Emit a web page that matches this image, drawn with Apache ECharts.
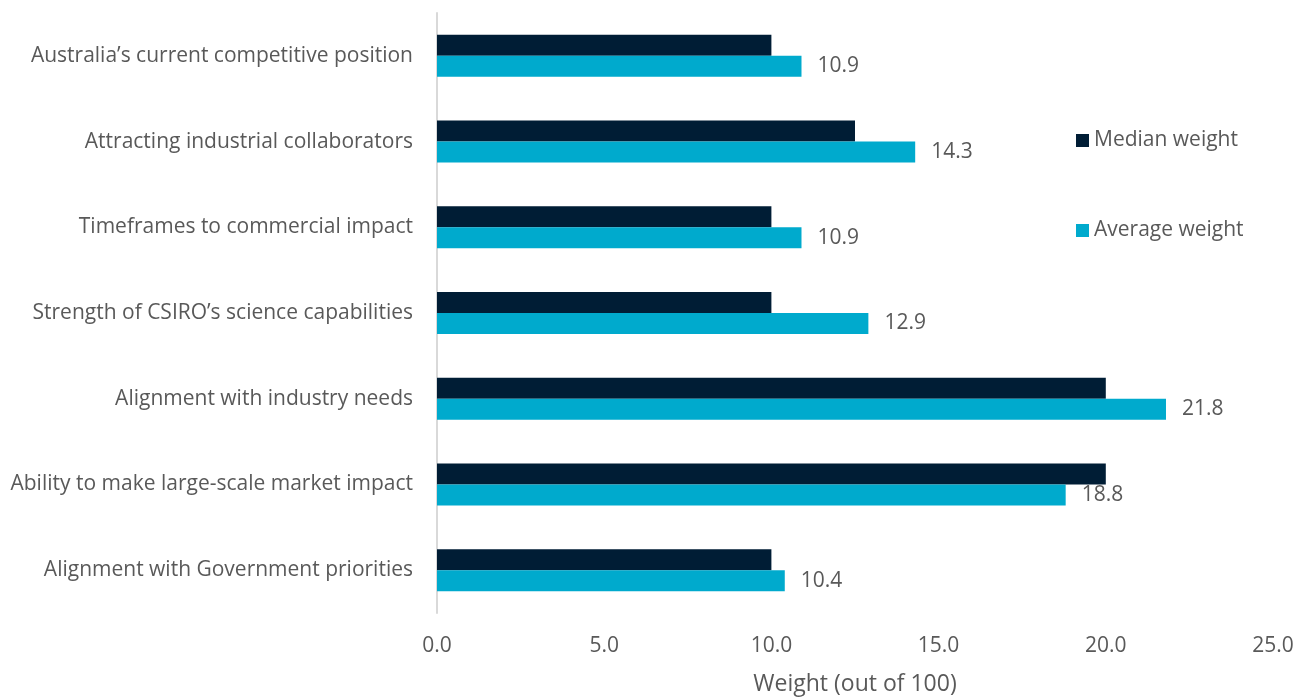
<!DOCTYPE html>
<html lang="en">
<head>
  <meta charset="UTF-8">
  <title>Weights</title>
  <script src="https://cdn.jsdelivr.net/npm/echarts@6/dist/echarts.min.js"></script>
  <style>
    html, body { margin: 0; padding: 0; background: #fff; }
    #chart { width: 1305px; height: 698px; }
  </style>
</head>
<body>
  <div id="chart"></div>
  <script>
    // top to bottom, as in the picture
    var categories = [
      'Australia\u2019s current competitive position',
      'Attracting industrial collaborators',
      'Timeframes to commercial impact',
      'Strength of CSIRO\u2019s science capabilities',
      'Alignment with industry needs',
      'Ability to make large-scale market impact',
      'Alignment with Government priorities'
    ];
    var medianWeight = [10, 12.5, 10, 10, 20, 20, 10];
    var averageWeight = [10.9, 14.3, 10.9, 12.9, 21.8, 18.8, 10.4];

    var textColor = '#595959';
    var font = 'Open Sans';

    var oChart = echarts.init(document.getElementById('chart'));
    var opt = {
      textStyle: { fontFamily: font },
      grid: { left: 437, right: 32, top: 13, bottom: 85, outerBoundsMode: 'none' },
      legend: {
        orient: 'vertical',
        left: 1071,
        top: 125,
        itemGap: 69,
        itemWidth: 13,
        itemHeight: 13,
        icon: 'rect',
        textStyle: { color: textColor, fontSize: 21, fontFamily: font },
        data: ['Median weight', 'Average weight']
      },
      xAxis: {
        type: 'value',
        min: 0,
        max: 25,
        interval: 5,
        name: 'Weight (out of 100)',
        nameLocation: 'middle',
        nameGap: 60,
        nameTextStyle: { color: textColor, fontSize: 23 },
        axisLine: { show: false },
        axisTick: { show: false },
        splitLine: { show: false },
        axisLabel: {
          color: textColor,
          fontSize: 21,
          margin: 23,
          formatter: function (v) { return v.toFixed(1); }
        }
      },
      yAxis: {
        type: 'category',
        inverse: true,
        data: categories,
        axisLine: { show: true, lineStyle: { color: '#d9d9d9', width: 2 } },
        axisTick: { show: false },
        axisLabel: { color: textColor, fontSize: 21, margin: 24 }
      },
      series: [
        {
          name: 'Median weight',
          type: 'bar',
          data: medianWeight,
          barGap: '0%',
          barCategoryGap: '51%',
          itemStyle: { color: '#001d35' }
        },
        {
          name: 'Average weight',
          type: 'bar',
          data: averageWeight,
          barGap: '0%',
          barCategoryGap: '51%',
          itemStyle: { color: '#00aacd' },
          label: {
            show: true,
            position: 'right',
            distance: 16,
            color: textColor,
            fontSize: 21,
            formatter: function (p) { return p.value.toFixed(1); }
          }
        }
      ]
    };
    oChart.setOption(opt);
  </script>
</body>
</html>
